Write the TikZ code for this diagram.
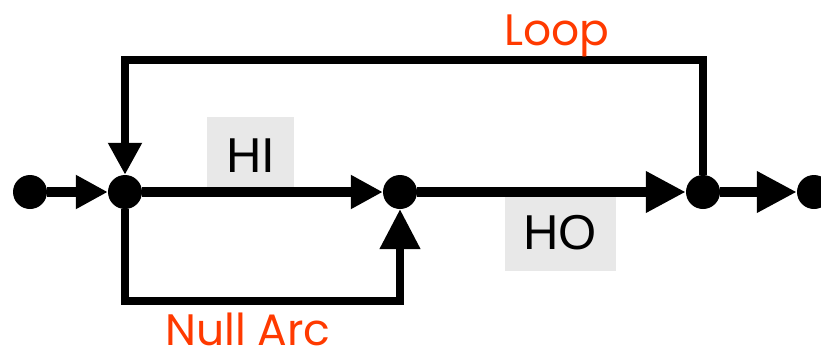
\documentclass[tikz,border=0pt]{standalone}
\usepackage{fontspec}
\setmainfont{Liberation Sans}
\newfontfamily\notefont{Poppins}
\usetikzlibrary{arrows.meta}
\definecolor{notered}{RGB}{255,58,0}
\definecolor{boxgray}{RGB}{232,232,232}
\tikzset{
  dot/.style={circle, fill=black, inner sep=0pt, minimum size=34pt},
  mainline/.style={line width=10pt},
  sideline/.style={line width=8pt},
  tipsmall/.style={-{Triangle[length=32pt,width=32pt]}},
  tipbig/.style={-{Triangle[length=40pt,width=39pt]}},
  note/.style={text=notered, font=\notefont\fontsize{44}{44}\selectfont, inner sep=0pt, anchor=base},
  lbltext/.style={font=\fontsize{49}{49}\selectfont, inner sep=0pt}
}
\begin{document}
\begin{tikzpicture}[x=1pt,y=-1pt]
  \useasboundingbox (0,0) rectangle (821,359);
  \clip (0,0) rectangle (821,359);

  % grey label boxes behind the arcs
  \fill[boxgray] (207,117) rectangle (294,192);
  \fill[boxgray] (505,192) rectangle (616,271);
  \node[lbltext] (hi) at (250.5,156) {HI};
  \node[lbltext] (ho) at (560,233) {HO};

  % states
  \node[dot] (n1) at (30,192) {};
  \node[dot] (n2) at (125,192) {};
  \node[dot] (n3) at (400,192) {};
  \node[dot] (n4) at (703,192) {};
  \node[dot] (n5) at (814,192) {};

  % corner points of the loop and the null arc
  \coordinate (lr) at (703,60);
  \coordinate (ll) at (125,60);
  \coordinate (nl) at (125,301);
  \coordinate (nr) at (400,301);

  % main arcs
  \draw[mainline,tipsmall] (n1) -- (n2);
  \draw[mainline,tipsmall] (n2) -- (n3);
  \draw[mainline,tipbig] (n3) -- (n4);
  \draw[mainline,tipbig] (n4) -- (n5);

  % loop back and null arc
  \draw[sideline,tipsmall] (n4) -- (lr) -- (ll) -- (n2);
  \draw[sideline,tipbig] (n2) -- (nl) -- (nr) -- (n3);

  % notes
  \node[note] (loop) at (557,45) {Loop};
  \node[note] (null) at (248,345) {Null Arc};
\end{tikzpicture}
\end{document}
